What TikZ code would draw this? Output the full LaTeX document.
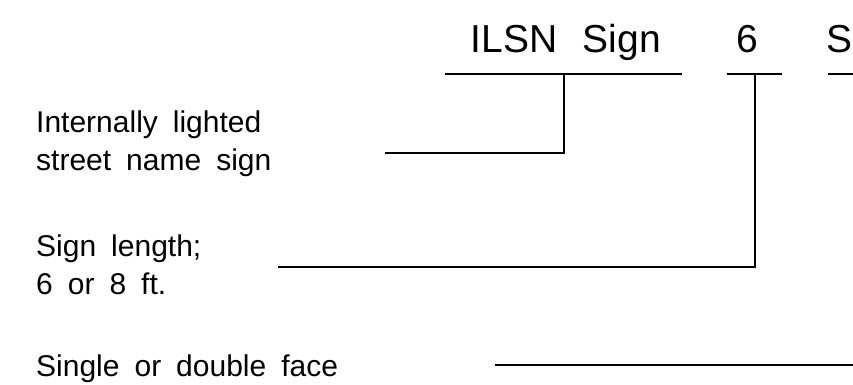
\documentclass[tikz,border=0pt]{standalone}
\usepackage{fontspec}
\setmainfont{Liberation Sans}
\usetikzlibrary{positioning}
\newcommand{\cadspace}{\spaceskip=0.5em\relax}
\newcommand{\headspace}{\spaceskip=0.65em\relax}
\tikzset{
  labeltext/.style={anchor=base west, inner sep=0pt, align=left,
    font=\fontsize{30}{38}\selectfont\cadspace},
  headtext/.style={anchor=base, inner sep=0pt,
    font=\fontsize{39}{44}\selectfont\headspace},
  leader/.style={line width=1.6pt}
}

\begin{document}
\begin{tikzpicture}[x=1pt,y=-1pt]
  \useasboundingbox (0,0) rectangle (853,385);
  \clip (0,0) rectangle (853,385);
  % column headings
  \node[headtext] (ilsn) at (566,53) {ILSN Sign};
  \node[headtext] (size) at (747,53) {6};
  \node[headtext, anchor=base west] (face) at (826,53) {S};
  \coordinate (ilsn w) at (445,74);
  \coordinate (ilsn e) at (682,74);
  \coordinate (ilsn tap) at (564,74);
  \coordinate (size w) at (727,74);
  \coordinate (size e) at (782,74);
  \coordinate (size tap) at (755,74);
  \coordinate (face w) at (828,74);
  \coordinate (face e) at (870,74);
  \draw[leader] (ilsn w) -- (ilsn e);
  \draw[leader] (size w) -- (size e);
  \draw[leader] (face w) -- (face e);
  % descriptions (base = last line)
  \node[labeltext] (ilsn txt) at (36,170) {Internally lighted\\street name sign};
  \node[labeltext] (size txt) at (36,294) {Sign length;\\6 or 8 ft.};
  \node[labeltext] (face txt) at (36,376) {Single or double face};
  \coordinate (ilsn end) at (385,153);
  \coordinate (size end) at (278,267);
  \coordinate (face end) at (495,365);
  \coordinate (face run) at (870,365);
  % leaders
  \draw[leader] (ilsn end) -| (ilsn tap);
  \draw[leader] (size end) -| (size tap);
  \draw[leader] (face end) -- (face run);
\end{tikzpicture}
\end{document}
